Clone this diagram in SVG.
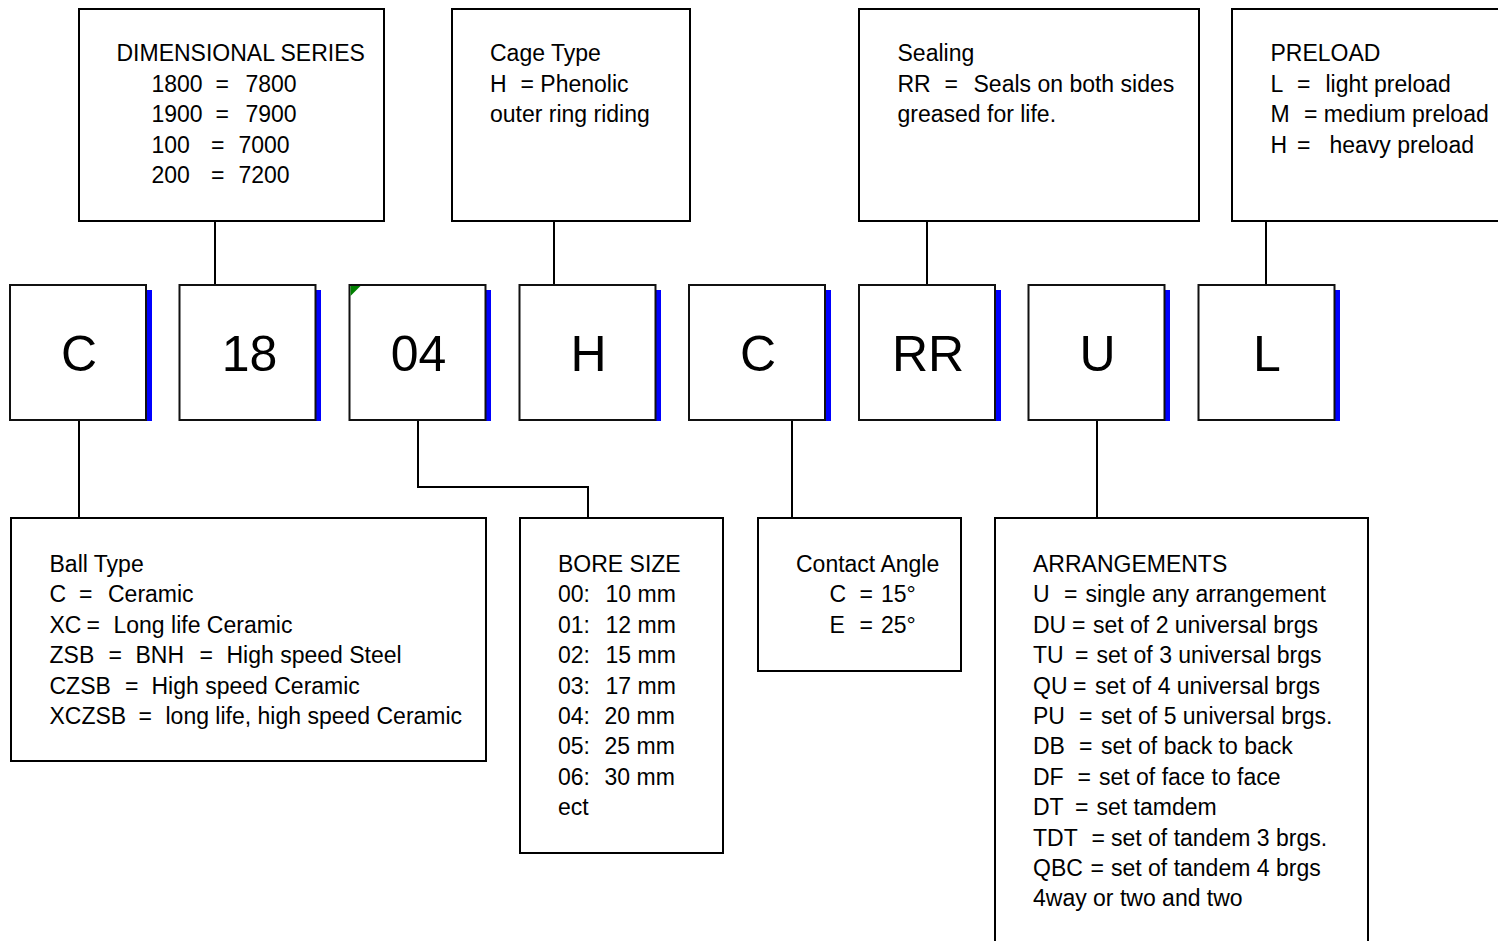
<svg xmlns="http://www.w3.org/2000/svg" width="1498" height="941" viewBox="0 0 1498 941">
<style>
.box{fill:#fff;stroke:#000;stroke-width:2}
.code{fill:#fff;stroke:#111;stroke-width:2}
.sh{fill:#0000ff}
.t{font-family:"Liberation Sans",Arial,sans-serif;font-size:23px;fill:#000}
.big{font-family:"Liberation Sans",Arial,sans-serif;font-size:50px;fill:#000;text-anchor:middle}
.ln{stroke:#000;stroke-width:2;fill:none}
</style>
<rect width="1498" height="941" fill="#fff"/>

<g id="connectors">
<line class="ln" x1="215" y1="221" x2="215" y2="285"/>
<line class="ln" x1="554" y1="221" x2="554" y2="285"/>
<line class="ln" x1="927" y1="221" x2="927" y2="285"/>
<line class="ln" x1="1266" y1="221" x2="1266" y2="285"/>
<line class="ln" x1="79" y1="420" x2="79" y2="518"/>
<polyline class="ln" points="418,420 418,487 588,487 588,518"/>
<line class="ln" x1="792" y1="420" x2="792" y2="518"/>
<line class="ln" x1="1097" y1="420" x2="1097" y2="518"/>
</g>

<g id="dimensional-series">
<rect class="box" x="79" y="9" width="305" height="212"/>
<text class="t" x="116.5" y="61">DIMENSIONAL SERIES</text>
<text class="t" y="91.5"><tspan x="151.5">1800</tspan><tspan x="215.5">=</tspan><tspan x="245.5">7800</tspan></text>
<text class="t" y="122"><tspan x="151.5">1900</tspan><tspan x="215.5">=</tspan><tspan x="245.5">7900</tspan></text>
<text class="t" y="152.5"><tspan x="151.5">100</tspan><tspan x="211">=</tspan><tspan x="238.5">7000</tspan></text>
<text class="t" y="183"><tspan x="151.5">200</tspan><tspan x="211">=</tspan><tspan x="238.5">7200</tspan></text>
</g>

<g id="cage-type">
<rect class="box" x="452" y="9" width="238" height="212"/>
<text class="t" x="490" y="61">Cage Type</text>
<text class="t" y="91.5"><tspan x="490">H</tspan><tspan x="520.5">= Phenolic</tspan></text>
<text class="t" x="490" y="122">outer ring riding</text>
</g>

<g id="sealing">
<rect class="box" x="859" y="9" width="340" height="212"/>
<text class="t" x="897.5" y="61">Sealing</text>
<text class="t" y="91.5"><tspan x="897.5">RR</tspan><tspan x="944.5">=</tspan><tspan x="973.5">Seals on both sides</tspan></text>
<text class="t" x="897.5" y="122">greased for life.</text>
</g>

<g id="preload">
<rect class="box" x="1232" y="9" width="280" height="212"/>
<text class="t" x="1270.5" y="61">PRELOAD</text>
<text class="t" y="91.5"><tspan x="1270.5">L</tspan><tspan x="1297">=</tspan><tspan x="1325.5">light preload</tspan></text>
<text class="t" y="122"><tspan x="1270.5">M</tspan><tspan x="1304">= medium preload</tspan></text>
<text class="t" y="152.5"><tspan x="1270.5">H</tspan><tspan x="1297">=</tspan><tspan x="1329.5">heavy preload</tspan></text>
</g>

<g id="code-C">
<rect class="sh" x="146" y="290" width="6" height="131"/>
<rect class="code" x="10" y="285" width="136" height="135"/>
<text class="big" x="79" y="371">C</text>
</g>
<g id="code-18">
<rect class="sh" x="315" y="290" width="6" height="131"/>
<rect class="code" x="179.5" y="285" width="136" height="135"/>
<text class="big" x="249.5" y="371">18</text>
</g>
<g id="code-04">
<rect class="sh" x="485" y="290" width="6" height="131"/>
<rect class="code" x="349.5" y="285" width="136" height="135"/>
<polygon points="350.5,286 360.5,286 350.5,296" fill="#008000"/>
<text class="big" x="418.5" y="371">04</text>
</g>
<g id="code-H">
<rect class="sh" x="655" y="290" width="6" height="131"/>
<rect class="code" x="519.5" y="285" width="136" height="135"/>
<text class="big" x="588.5" y="371">H</text>
</g>
<g id="code-C2">
<rect class="sh" x="825" y="290" width="6" height="131"/>
<rect class="code" x="689" y="285" width="136" height="135"/>
<text class="big" x="758" y="371">C</text>
</g>
<g id="code-RR">
<rect class="sh" x="995" y="290" width="6" height="131"/>
<rect class="code" x="859" y="285" width="136" height="135"/>
<text class="big" x="928" y="371">RR</text>
</g>
<g id="code-U">
<rect class="sh" x="1164" y="290" width="6" height="131"/>
<rect class="code" x="1028.5" y="285" width="136" height="135"/>
<text class="big" x="1097.5" y="371">U</text>
</g>
<g id="code-L">
<rect class="sh" x="1334" y="290" width="6" height="131"/>
<rect class="code" x="1198.5" y="285" width="136" height="135"/>
<text class="big" x="1267" y="371">L</text>
</g>

<g id="ball-type">
<rect class="box" x="11" y="518" width="475" height="243"/>
<text class="t" x="49.5" y="572">Ball Type</text>
<text class="t" y="602"><tspan x="49.5">C</tspan><tspan x="79">=</tspan><tspan x="108">Ceramic</tspan></text>
<text class="t" y="632.5"><tspan x="49.5">XC</tspan><tspan x="86.5">=</tspan><tspan x="113.5">Long life Ceramic</tspan></text>
<text class="t" y="663"><tspan x="49.5">ZSB</tspan><tspan x="108.5">=</tspan><tspan x="135.5">BNH</tspan><tspan x="199.5">=</tspan><tspan x="226.5">High speed Steel</tspan></text>
<text class="t" y="693.5"><tspan x="49.5">CZSB</tspan><tspan x="125">=</tspan><tspan x="151.5">High speed Ceramic</tspan></text>
<text class="t" y="724"><tspan x="49.5">XCZSB</tspan><tspan x="138.5">=</tspan><tspan x="165.5">long life, high speed Ceramic</tspan></text>
</g>

<g id="bore-size">
<rect class="box" x="520" y="518" width="203" height="335"/>
<text class="t" x="558" y="572">BORE SIZE</text>
<text class="t" y="602"><tspan x="558">00:</tspan><tspan x="605.5">10 mm</tspan></text>
<text class="t" y="632.5"><tspan x="558">01:</tspan><tspan x="605.5">12 mm</tspan></text>
<text class="t" y="663"><tspan x="558">02:</tspan><tspan x="605.5">15 mm</tspan></text>
<text class="t" y="693.5"><tspan x="558">03:</tspan><tspan x="605.5">17 mm</tspan></text>
<text class="t" y="724"><tspan x="558">04:</tspan><tspan x="604.5">20 mm</tspan></text>
<text class="t" y="754"><tspan x="558">05:</tspan><tspan x="604.5">25 mm</tspan></text>
<text class="t" y="784.5"><tspan x="558">06:</tspan><tspan x="604.5">30 mm</tspan></text>
<text class="t" x="558" y="815">ect</text>
</g>

<g id="contact-angle">
<rect class="box" x="758" y="518" width="203" height="153"/>
<text class="t" x="796" y="572">Contact Angle</text>
<text class="t" y="602"><tspan x="829.5">C</tspan><tspan x="859.5">=</tspan><tspan x="881">15°</tspan></text>
<text class="t" y="632.5"><tspan x="829.5">E</tspan><tspan x="859.5">=</tspan><tspan x="881">25°</tspan></text>
</g>

<g id="arrangements">
<rect class="box" x="995" y="518" width="373" height="440"/>
<text class="t" x="1033" y="572">ARRANGEMENTS</text>
<text class="t" y="602"><tspan x="1033">U</tspan><tspan x="1064">=</tspan><tspan x="1085.5">single any arrangement</tspan></text>
<text class="t" y="632.5"><tspan x="1033">DU</tspan><tspan x="1072">=</tspan><tspan x="1093">set of 2 universal brgs</tspan></text>
<text class="t" y="663"><tspan x="1033">TU</tspan><tspan x="1075">=</tspan><tspan x="1096.5">set of 3 universal brgs</tspan></text>
<text class="t" y="693.5"><tspan x="1033">QU</tspan><tspan x="1073">=</tspan><tspan x="1095">set of 4 universal brgs</tspan></text>
<text class="t" y="724"><tspan x="1033">PU</tspan><tspan x="1079">=</tspan><tspan x="1101">set of 5 universal brgs.</tspan></text>
<text class="t" y="754"><tspan x="1033">DB</tspan><tspan x="1079">=</tspan><tspan x="1101">set of back to back</tspan></text>
<text class="t" y="784.5"><tspan x="1033">DF</tspan><tspan x="1077.5">=</tspan><tspan x="1099">set of face to face</tspan></text>
<text class="t" y="815"><tspan x="1033">DT</tspan><tspan x="1075">=</tspan><tspan x="1096.5">set tamdem</tspan></text>
<text class="t" y="845.5"><tspan x="1033">TDT</tspan><tspan x="1091.5">=</tspan><tspan x="1111">set of tandem 3 brgs.</tspan></text>
<text class="t" y="875.5"><tspan x="1033">QBC</tspan><tspan x="1090.5">=</tspan><tspan x="1111">set of tandem 4 brgs</tspan></text>
<text class="t" x="1033" y="906">4way or two and two</text>
</g>
</svg>
